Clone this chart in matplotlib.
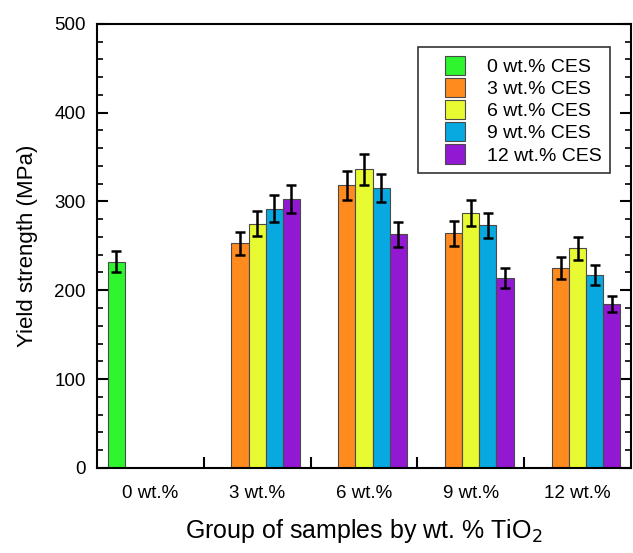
import matplotlib
matplotlib.use("Agg")
import matplotlib.pyplot as plt
from matplotlib.patches import Rectangle
from matplotlib.legend_handler import HandlerPatch
import numpy as np

plt.rcParams['font.family'] = ['Liberation Sans', 'DejaVu Sans']

groups = ["0 wt.%", "3 wt.%", "6 wt.%", "9 wt.%", "12 wt.%"]
series = ["0 wt.% CES", "3 wt.% CES", "6 wt.% CES", "9 wt.% CES", "12 wt.% CES"]
colors = ["#2ef52e", "#ff8a1e", "#e8fa32", "#08a8e0", "#9318d2"]

# values per series across groups (None = no bar)
val_0 = [232, None, None, None, None]
err_0 = [12, None, None, None, None]
val_3 = [None, 253, 318, 264, 225]
err_3 = [None, 13, 16, 14, 12]
val_6 = [None, 275, 336, 287, 247]
err_6 = [None, 14, 17, 15, 13]
val_9 = [None, 292, 315, 273, 217]
err_9 = [None, 15, 16, 14, 11]
val_12 = [None, 303, 263, 214, 184]
err_12 = [None, 16, 14, 11, 9]

values = [val_0, val_3, val_6, val_9, val_12]
errors = [err_0, err_3, err_6, err_9, err_12]

fig = plt.figure(figsize=(6.33, 5.53), dpi=100)
ax = fig.add_axes([0.153, 0.154, 0.844, 0.803])

w = 0.16
x = np.arange(len(groups))
handles = []
for i, (name, col, vals, errs) in enumerate(zip(series, colors, values, errors)):
    xs = [x[j] + (i - 2) * w for j in range(len(groups)) if vals[j] is not None]
    ys = [vals[j] for j in range(len(groups)) if vals[j] is not None]
    es = [errs[j] for j in range(len(groups)) if vals[j] is not None]
    ax.bar(xs, ys, width=w, color=col, edgecolor="#4a4a4a", linewidth=0.8, zorder=2)
    ax.errorbar(xs, ys, yerr=es, fmt="none", ecolor="black", elinewidth=1.8,
                capsize=3.5, capthick=1.8, zorder=3)
    handles.append(Rectangle((0, 0), 1, 1, facecolor=col, edgecolor="#4a4a4a", linewidth=0.8, label=name))

ax.set_xlim(-0.5, len(groups) - 0.5)
ax.set_ylim(0, 500)
ax.set_xticks(x)
ax.set_xticklabels(groups)
ax.set_xticks(np.arange(0.5, len(groups) - 0.5, 1.0), minor=True)
ax.set_yticks(np.arange(0, 501, 100))
ax.set_yticks(np.arange(0, 501, 20), minor=True)

ax.tick_params(axis="x", which="major", length=0, pad=12, labelsize=13.5)
ax.tick_params(axis="x", which="minor", direction="in", length=8, width=1.5, top=False)
ax.tick_params(axis="y", which="major", direction="in", length=8, width=1.5, right=True, labelsize=13.5, pad=8)
ax.tick_params(axis="y", which="minor", direction="in", length=4, width=1.2, right=True)
for s in ax.spines.values():
    s.set_linewidth(1.5)

ax.set_ylabel("Yield strength (MPa)", fontsize=16, labelpad=12)
ax.set_xlabel("Group of samples by wt. % TiO$_2$", fontsize=18, labelpad=11)


def square_patch(legend, orig_handle, xdescent, ydescent, width, height, fontsize):
    s = height
    return Rectangle((-xdescent + width - s, -ydescent), s, s)


leg = ax.legend(handles=handles, loc="upper right", bbox_to_anchor=(0.961, 0.948), borderaxespad=0,
                fontsize=14, frameon=True, fancybox=False, edgecolor="black",
                handlelength=1.96, handleheight=1.15, labelspacing=0.1,
                borderpad=0.45, handletextpad=1.13,
                handler_map={Rectangle: HandlerPatch(patch_func=square_patch)})
leg.get_frame().set_linewidth(1.2)

fig.savefig("out.png", dpi=100)
